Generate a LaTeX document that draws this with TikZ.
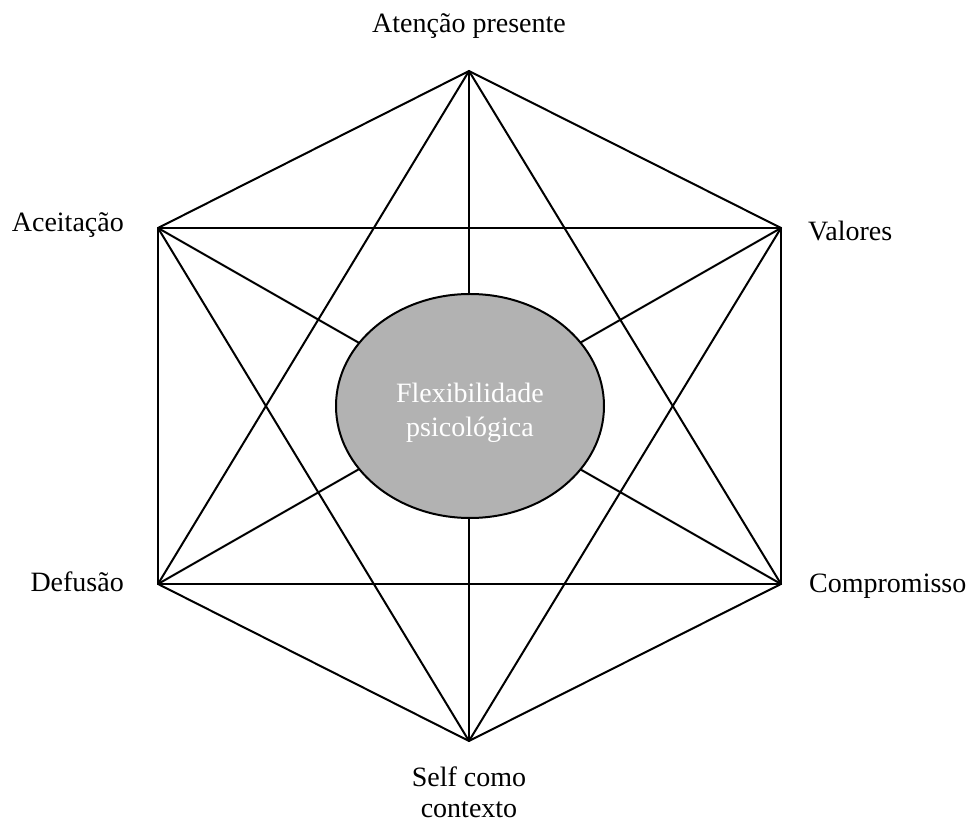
\documentclass[tikz,border=0pt]{standalone}
\usepackage{fontspec}
\setmainfont{Liberation Serif}
\usetikzlibrary{shapes.geometric}
\begin{document}
\begin{tikzpicture}[x=1pt,y=1pt,
  edge/.style={line width=2pt, line cap=round, line join=round},
  lbl/.style={font=\fontsize{28}{34}\selectfont, inner sep=0pt},
  core/.style={ellipse, draw, line width=2pt, fill=black!30, minimum width=268pt, minimum height=224pt, inner sep=0pt},
  coretext/.style={text=white, align=center, inner sep=0pt, font=\fontsize{28}{34}\selectfont}]
\useasboundingbox (0,0) rectangle (970,823);
\coordinate (T) at (469,752);
\coordinate (UL) at (158,595);
\coordinate (UR) at (781,595);
\coordinate (LL) at (158,239);
\coordinate (LR) at (781,239);
\coordinate (B) at (469,82);
\foreach \a/\b in {T/UL,T/UR,T/LL,T/LR,T/B,UL/UR,UL/LL,UL/LR,UL/B,UR/LL,UR/LR,UR/B,LL/LR,LL/B,LR/B}
  \draw[edge] (\a) -- (\b);
\node[core] (C) at (470,417) {};
\node[coretext] (Ct) at ([yshift=-7pt]C.center) {Flexibilidade\\psicológica};
\node[lbl, anchor=base] (lT) at (469,790) {Atenção presente};
\node[lbl, anchor=base east] (lUL) at (124,591) {Aceitação};
\node[lbl, anchor=base west] (lUR) at (808,582) {Valores};
\node[lbl, anchor=base east] (lLL) at (124,231) {Defusão};
\node[lbl, anchor=base west] (lLR) at (809,230) {Compromisso};
\node[lbl, anchor=base] (lB) at (469,37) {Self como};
\node[lbl, anchor=base] (lB2) at (469,6) {contexto};
\end{tikzpicture}
\end{document}
